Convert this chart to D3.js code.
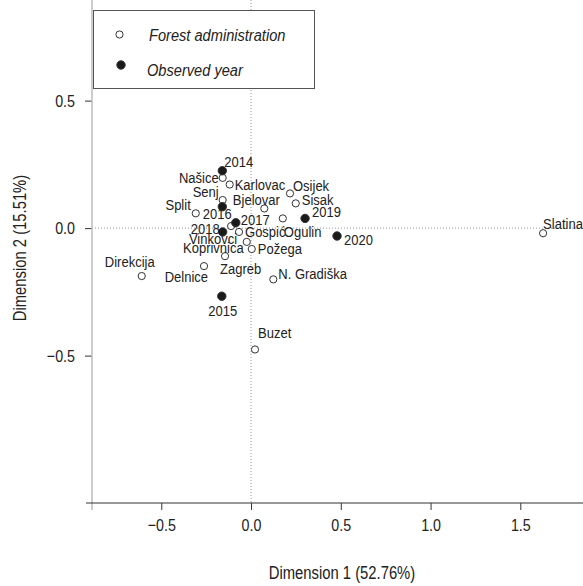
<!DOCTYPE html>
<html>
<head>
<meta charset="utf-8">
<script src="https://cdn.jsdelivr.net/npm/d3@7"></script>
<style>
  body { margin: 0; background: #fff; }
  svg text { font-family: "Liberation Sans", Arial, sans-serif; fill: #222; }
</style>
</head>
<body>
<div id="chart"></div>
<script>
// forest administrations (open circles)
var adminNames = ["Našice", "Karlovac", "Osijek", "Sisak", "Senj", "Bjelovar", "Split", "Ogulin",
    "Vinkovci", "Gospić", "Koprivnica", "Požega", "Zagreb", "Direkcija", "Delnice", "N. Gradiška",
    "Buzet", "Slatina"];
var adminDim1 = [-0.158, -0.119, 0.217, 0.249, -0.158, 0.074, -0.308, 0.177,
    -0.111, -0.067, -0.024, 0.004, -0.145, -0.609, -0.262, 0.124,
    0.022, 1.627];
var adminDim2 = [0.197, 0.171, 0.136, 0.097, 0.110, 0.077, 0.058, 0.038,
    0.008, -0.015, -0.054, -0.082, -0.110, -0.188, -0.149, -0.201,
    -0.476, -0.020];

// observed years (filled circles)
var yearNames = ["2014", "2015", "2016", "2017", "2018", "2019", "2020"];
var yearDim1 = [-0.160, -0.163, -0.160, -0.085, -0.158, 0.301, 0.479];
var yearDim2 = [0.225, -0.267, 0.084, 0.021, -0.015, 0.038, -0.031];

var xTicks = [-0.5, 0, 0.5, 1.0, 1.5];
var yTicks = [-0.5, 0, 0.5];

var legendLabels = ["Forest administration", "Observed year"];
var xTitle = "Dimension 1 (52.76%)";
var yTitle = "Dimension 2 (15.51%)";

// where each label sits next to its point: dx, dy (px), text-anchor
var labelPos = {
    "Našice": [-4, 0, "end"], "Karlovac": [5, 0, "start"], "Osijek": [3, -8, "start"],
    "Sisak": [6, -4, "start"], "Senj": [-4, -8, "end"], "Bjelovar": [-8, -9, "middle"],
    "Split": [-5, -9, "end"], "Ogulin": [1, 13, "start"], "Vinkovci": [6, 12, "end"],
    "Gospić": [6, 0, "start"], "Koprivnica": [-3, 6, "end"], "Požega": [6, 0, "start"],
    "Zagreb": [-5, 12, "start"], "Direkcija": [-12, -14, "middle"], "Delnice": [4, 10, "end"],
    "N. Gradiška": [5, -6, "start"], "Buzet": [3, -17, "start"], "Slatina": [0, -10, "start"],
    "2014": [2, -9, "start"], "2015": [1, 14, "middle"], "2016": [-5, 7, "middle"],
    "2017": [5, -3, "start"], "2018": [-3, -3, "end"], "2019": [7, -7, "start"],
    "2020": [7, 4, "start"]
};

var width = 583, height = 586;

// the original uses a narrow face; squeeze Liberation Sans horizontally instead
function narrow(sel, k) {
    sel.each(function () {
        var t = d3.select(this);
        var tx = +t.attr("x") || 0, ty = +t.attr("y") || 0;
        var pre = t.attr("transform") || "";
        t.attr("x", 0).attr("y", 0)
            .attr("transform", pre + " translate(" + tx + "," + ty + ") scale(" + k + ",1)");
    });
}

var svg = d3.select("#chart").append("svg")
    .attr("width", width)
    .attr("height", height);

var x = d3.scaleLinear().domain([-0.886, 1.905]).range([92, 593]);
var y = d3.scaleLinear().domain([-1.078, 0.922]).range([503, -7]);

// reference lines through the origin
svg.append("line")
    .attr("x1", 92).attr("x2", width)
    .attr("y1", y(0)).attr("y2", y(0))
    .attr("stroke", "#999").attr("stroke-width", 1).attr("stroke-dasharray", "1,2");
svg.append("line")
    .attr("x1", x(0)).attr("x2", x(0))
    .attr("y1", 0).attr("y2", 503)
    .attr("stroke", "#999").attr("stroke-width", 1).attr("stroke-dasharray", "1,2");

// axes
var xAxis = svg.append("g")
    .attr("transform", "translate(0,503)")
    .call(d3.axisBottom(x).tickValues(xTicks).tickSize(7).tickPadding(9).tickFormat(d3.format(".1f")));
xAxis.select(".domain").remove();
xAxis.selectAll("line").attr("stroke", "#333");
xAxis.selectAll("text").style("font-size", "17px").call(narrow, 0.84);

var yAxis = svg.append("g")
    .attr("transform", "translate(92,0)")
    .call(d3.axisLeft(y).tickValues(yTicks).tickSize(7).tickPadding(10).tickFormat(d3.format(".1f")));
yAxis.select(".domain").remove();
yAxis.selectAll("line").attr("stroke", "#333");
yAxis.selectAll("text").style("font-size", "17px").call(narrow, 0.84);

svg.append("line")
    .attr("x1", 92).attr("x2", 92).attr("y1", 0).attr("y2", 510)
    .attr("stroke", "#bbb").attr("stroke-width", 1.5);
svg.append("line")
    .attr("x1", 86).attr("x2", width).attr("y1", 503).attr("y2", 503)
    .attr("stroke", "#333").attr("stroke-width", 1);

// axis titles
svg.append("text")
    .attr("x", 342).attr("y", 579)
    .attr("text-anchor", "middle")
    .style("font-size", "19px")
    .text(xTitle)
    .call(narrow, 0.78);
svg.append("text")
    .attr("transform", "translate(26,248) rotate(-90) scale(0.78,1)")
    .attr("text-anchor", "middle")
    .style("font-size", "19px")
    .text(yTitle);

// points
var admins = adminNames.map(function (n, i) { return { name: n, d1: adminDim1[i], d2: adminDim2[i], year: false }; });
var years = yearNames.map(function (n, i) { return { name: n, d1: yearDim1[i], d2: yearDim2[i], year: true }; });
var all = admins.concat(years);

svg.selectAll(".pt")
    .data(all)
    .enter().append("circle")
    .attr("class", "pt")
    .attr("cx", function (d) { return x(d.d1); })
    .attr("cy", function (d) { return y(d.d2); })
    .attr("r", function (d) { return d.year ? 4.2 : 3.6; })
    .attr("fill", function (d) { return d.year ? "#1a1a1a" : "#fff"; })
    .attr("stroke", "#333")
    .attr("stroke-width", 1);

svg.selectAll(".lbl")
    .data(all)
    .enter().append("text")
    .attr("class", "lbl")
    .attr("x", function (d) { return x(d.d1) + labelPos[d.name][0]; })
    .attr("y", function (d) { return y(d.d2) + labelPos[d.name][1]; })
    .attr("dy", "0.35em")
    .attr("text-anchor", function (d) { return labelPos[d.name][2]; })
    .style("font-size", "15.5px")
    .text(function (d) { return d.name; })
    .call(narrow, 0.84);

// legend
var legend = svg.append("g");
legend.append("rect")
    .attr("x", 93.5).attr("y", 10.5).attr("width", 221).attr("height", 78)
    .attr("fill", "#fff").attr("stroke", "#555").attr("stroke-width", 1);
legend.append("circle")
    .attr("cx", 119.5).attr("cy", 34.5).attr("r", 3.6)
    .attr("fill", "#fff").attr("stroke", "#333");
legend.append("circle")
    .attr("cx", 121).attr("cy", 65).attr("r", 4.2)
    .attr("fill", "#1a1a1a").attr("stroke", "#333");
legend.append("text")
    .attr("x", 149).attr("y", 41)
    .style("font-size", "17px").style("font-style", "italic")
    .text(legendLabels[0])
    .call(narrow, 0.86);
legend.append("text")
    .attr("x", 147).attr("y", 76)
    .style("font-size", "17px").style("font-style", "italic")
    .text(legendLabels[1])
    .call(narrow, 0.86);
</script>
</body>
</html>
